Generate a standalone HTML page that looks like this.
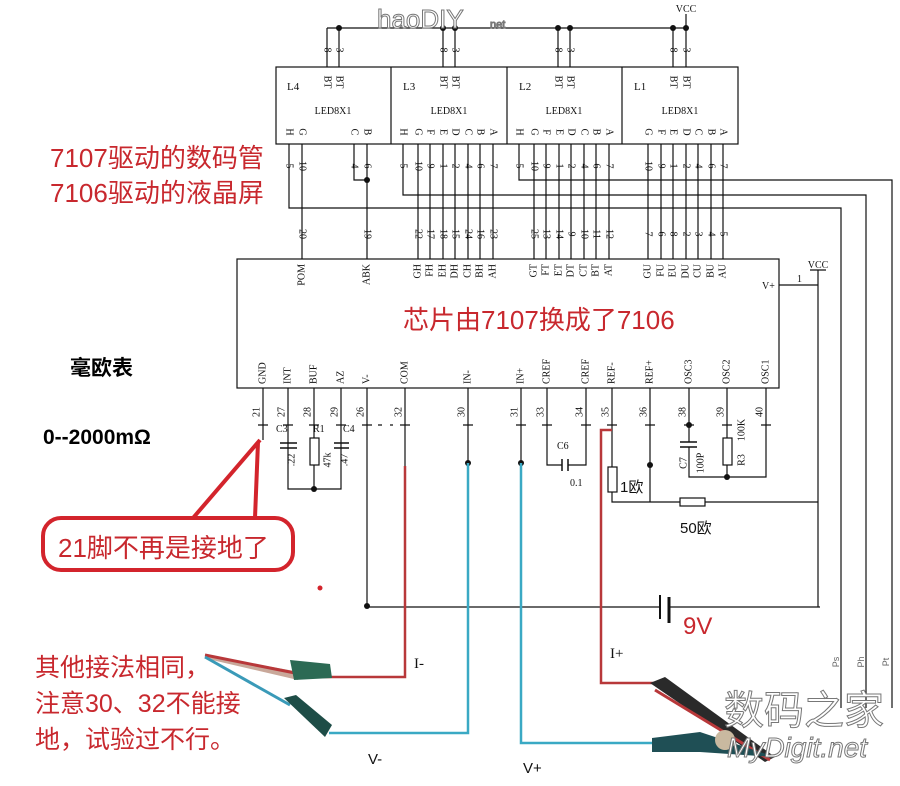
<!DOCTYPE html>
<html><head><meta charset="utf-8"><style>
html,body{margin:0;padding:0;background:#fff}
svg{display:block}
.s{font-family:"Liberation Serif",serif;font-size:10px;fill:#111}
.r{font-family:"Liberation Sans","Noto Sans CJK SC",sans-serif;fill:#c8282e}
.b{font-family:"Liberation Sans","Noto Sans CJK SC",sans-serif;font-weight:bold;fill:#000}
</style></head><body>
<svg width="900" height="786" viewBox="0 0 900 786" xmlns="http://www.w3.org/2000/svg">
<rect width="900" height="786" fill="#fff"/>
<g stroke="#111" stroke-width="1.2" fill="none">
<path d="M327 28H686M327 28V67M339 28V67M443 28V67M455 28V67M558 28V67M570 28V67M673 28V67M686 14V67"/>
<rect x="276" y="67" width="462" height="77"/>
<path d="M391 67V144M507 67V144M622 67V144"/>
<path d="M302 144V259M367 144V259M354 144V180H367"/>
<path d="M418 144V259M430 144V259M443 144V259M455 144V259M468 144V259M480 144V259M493 144V259"/>
<path d="M534 144V259M546 144V259M559 144V259M571 144V259M584 144V259M596 144V259M609 144V259"/>
<path d="M648 144V259M661 144V259M673 144V259M686 144V259M698 144V259M711 144V259M723 144V259"/>
<path d="M519 144V180H892V708M403 144V195H866V708M289 144V208H841V708"/>
<rect x="237" y="259" width="542" height="129"/>
<path d="M779 285H818M818 270V607M810 270H826"/>
<path d="M263 388V440M288 388V489H341V388M314 388V438M314 465V489M367 388V607M405 388V466M468 388V463M521 388V463"/>
<path d="M547 388V465H562M568 465H586V388"/>
<path d="M612 388V467M612 492V502H680M705 502H818M650 388V502"/>
<path d="M689 388V442M689 447V477H766V388M727 388V438M727 465V477"/>
<path d="M367 607H660M669 607H820"/>
<path d="M258 425H268M283 425H293M309 425H319M336 425H346M362 425H372M400 425H410M463 425H473M516 425H526M542 425H552M581 425H591M607 425H617M645 425H655M684 425H694M722 425H732M761 425H771M378 425H382M390 425H393"/>
<path d="M280 443H297M280 448H297M334 443H349M334 448H349M680 442H697M680 447H697" stroke-width="1.5"/>
<path d="M562 459V471M568 459V471" stroke-width="1.5"/>
<path d="M660 595V619" stroke-width="2"/><path d="M669 597V623" stroke-width="3"/>
<rect x="310" y="438" width="9" height="27" fill="#fff"/>
<rect x="723" y="438" width="9" height="27" fill="#fff"/>
<rect x="608" y="467" width="9" height="25" fill="#fff"/>
<rect x="680" y="498" width="25" height="8" fill="#fff"/>
</g>
<g fill="#111">
<circle cx="339" cy="28" r="3"/><circle cx="443" cy="28" r="3"/><circle cx="455" cy="28" r="3"/><circle cx="558" cy="28" r="3"/><circle cx="570" cy="28" r="3"/><circle cx="673" cy="28" r="3"/><circle cx="686" cy="28" r="3"/>
<circle cx="367" cy="180" r="3"/><circle cx="314" cy="489" r="3"/><circle cx="468" cy="463" r="3"/><circle cx="521" cy="463" r="3"/><circle cx="650" cy="465" r="3"/><circle cx="689" cy="425" r="3"/><circle cx="727" cy="477" r="3"/><circle cx="367" cy="606" r="3"/>
</g>
<g fill="none" stroke-width="2.5">
<path d="M405 466V677H297" stroke="#b8383a"/>
<path d="M612 430H601V683H658" stroke="#b8383a"/>
<path d="M468 463V733H329" stroke="#3aa9c4"/>
<path d="M521 463V743H655" stroke="#3aa9c4"/>
</g>
<g>
<path d="M205 655L300 672L298 680L212 660Z" fill="#c9a89a"/>
<path d="M205 655L300 674" stroke="#b8383a" stroke-width="3"/>
<path d="M290 660L330 664L332 678L294 680Z" fill="#2c6a54"/>
<path d="M205 657L290 705" stroke="#3a9ab8" stroke-width="3"/>
<path d="M284 698L296 695L332 725L325 737Z" fill="#1e4d47"/>
<path d="M650 683L665 677L775 757L765 762Z" fill="#2a2a2a"/>
<path d="M655 690L770 760" stroke="#b8383a" stroke-width="3"/>
<path d="M652 738L700 732L775 757L700 752L652 752Z" fill="#1f4f55"/>
<circle cx="725" cy="740" r="10" fill="#c9b9a0"/>
</g>
<g stroke="#d3242c" stroke-width="4" fill="none">
<rect x="43" y="518" width="250" height="52" rx="18"/>
<path d="M193 518L260 440M255 518L258 442"/>
</g>
<circle cx="320" cy="588" r="2.5" fill="#d3242c"/>
<g class="s">
<text x="686" y="12" text-anchor="middle">VCC</text>
<text x="818" y="268" text-anchor="middle">VCC</text>
<text x="762" y="289">V+</text>
<text x="797" y="282">1</text>
<text x="287" y="90" font-size="11">L4</text><text x="403" y="90" font-size="11">L3</text><text x="519" y="90" font-size="11">L2</text><text x="634" y="90" font-size="11">L1</text>
<text x="333" y="114" text-anchor="middle">LED8X1</text><text x="449" y="114" text-anchor="middle">LED8X1</text><text x="564" y="114" text-anchor="middle">LED8X1</text><text x="680" y="114" text-anchor="middle">LED8X1</text>
<text x="276" y="432">C3</text><text x="313" y="432">R1</text><text x="343" y="432">C4</text>
<text x="557" y="449">C6</text><text x="570" y="486">0.1</text>
</g>
<g class="s" font-size="10">
<text transform="translate(327,50) rotate(90)" text-anchor="middle" dominant-baseline="central">8</text>
<text transform="translate(339,50) rotate(90)" text-anchor="middle" dominant-baseline="central">3</text>
<text transform="translate(443,50) rotate(90)" text-anchor="middle" dominant-baseline="central">8</text>
<text transform="translate(455,50) rotate(90)" text-anchor="middle" dominant-baseline="central">3</text>
<text transform="translate(558,50) rotate(90)" text-anchor="middle" dominant-baseline="central">8</text>
<text transform="translate(570,50) rotate(90)" text-anchor="middle" dominant-baseline="central">3</text>
<text transform="translate(673,50) rotate(90)" text-anchor="middle" dominant-baseline="central">8</text>
<text transform="translate(686,50) rotate(90)" text-anchor="middle" dominant-baseline="central">3</text>
<text transform="translate(327,82) rotate(90)" text-anchor="middle" dominant-baseline="central">BT</text>
<text transform="translate(339,82) rotate(90)" text-anchor="middle" dominant-baseline="central">BT</text>
<text transform="translate(443,82) rotate(90)" text-anchor="middle" dominant-baseline="central">BT</text>
<text transform="translate(455,82) rotate(90)" text-anchor="middle" dominant-baseline="central">BT</text>
<text transform="translate(558,82) rotate(90)" text-anchor="middle" dominant-baseline="central">BT</text>
<text transform="translate(570,82) rotate(90)" text-anchor="middle" dominant-baseline="central">BT</text>
<text transform="translate(673,82) rotate(90)" text-anchor="middle" dominant-baseline="central">BT</text>
<text transform="translate(686,82) rotate(90)" text-anchor="middle" dominant-baseline="central">BT</text>
</g>
<g class="s">
<text transform="translate(289,132) rotate(90)" text-anchor="middle" dominant-baseline="central">H</text>
<text transform="translate(302,132) rotate(90)" text-anchor="middle" dominant-baseline="central">G</text>
<text transform="translate(354,132) rotate(90)" text-anchor="middle" dominant-baseline="central">C</text>
<text transform="translate(367,132) rotate(90)" text-anchor="middle" dominant-baseline="central">B</text>
<text transform="translate(289,166) rotate(90)" text-anchor="middle" dominant-baseline="central">5</text>
<text transform="translate(302,166) rotate(90)" text-anchor="middle" dominant-baseline="central">10</text>
<text transform="translate(354,166) rotate(90)" text-anchor="middle" dominant-baseline="central">4</text>
<text transform="translate(367,166) rotate(90)" text-anchor="middle" dominant-baseline="central">6</text>
<text transform="translate(302,234) rotate(90)" text-anchor="middle" dominant-baseline="central">20</text>
<text transform="translate(367,234) rotate(90)" text-anchor="middle" dominant-baseline="central">19</text>
</g>
<g class="s">
<text transform="translate(403,132) rotate(90)" text-anchor="middle" dominant-baseline="central">H</text>
<text transform="translate(418,132) rotate(90)" text-anchor="middle" dominant-baseline="central">G</text>
<text transform="translate(430,132) rotate(90)" text-anchor="middle" dominant-baseline="central">F</text>
<text transform="translate(443,132) rotate(90)" text-anchor="middle" dominant-baseline="central">E</text>
<text transform="translate(455,132) rotate(90)" text-anchor="middle" dominant-baseline="central">D</text>
<text transform="translate(468,132) rotate(90)" text-anchor="middle" dominant-baseline="central">C</text>
<text transform="translate(480,132) rotate(90)" text-anchor="middle" dominant-baseline="central">B</text>
<text transform="translate(493,132) rotate(90)" text-anchor="middle" dominant-baseline="central">A</text>
<text transform="translate(403,166) rotate(90)" text-anchor="middle" dominant-baseline="central">5</text>
<text transform="translate(418,166) rotate(90)" text-anchor="middle" dominant-baseline="central">10</text>
<text transform="translate(430,166) rotate(90)" text-anchor="middle" dominant-baseline="central">9</text>
<text transform="translate(443,166) rotate(90)" text-anchor="middle" dominant-baseline="central">1</text>
<text transform="translate(455,166) rotate(90)" text-anchor="middle" dominant-baseline="central">2</text>
<text transform="translate(468,166) rotate(90)" text-anchor="middle" dominant-baseline="central">4</text>
<text transform="translate(480,166) rotate(90)" text-anchor="middle" dominant-baseline="central">6</text>
<text transform="translate(493,166) rotate(90)" text-anchor="middle" dominant-baseline="central">7</text>
<text transform="translate(418,234) rotate(90)" text-anchor="middle" dominant-baseline="central">22</text>
<text transform="translate(430,234) rotate(90)" text-anchor="middle" dominant-baseline="central">17</text>
<text transform="translate(443,234) rotate(90)" text-anchor="middle" dominant-baseline="central">18</text>
<text transform="translate(455,234) rotate(90)" text-anchor="middle" dominant-baseline="central">15</text>
<text transform="translate(468,234) rotate(90)" text-anchor="middle" dominant-baseline="central">24</text>
<text transform="translate(480,234) rotate(90)" text-anchor="middle" dominant-baseline="central">16</text>
<text transform="translate(493,234) rotate(90)" text-anchor="middle" dominant-baseline="central">23</text>
<text transform="translate(519,132) rotate(90)" text-anchor="middle" dominant-baseline="central">H</text>
<text transform="translate(534,132) rotate(90)" text-anchor="middle" dominant-baseline="central">G</text>
<text transform="translate(546,132) rotate(90)" text-anchor="middle" dominant-baseline="central">F</text>
<text transform="translate(559,132) rotate(90)" text-anchor="middle" dominant-baseline="central">E</text>
<text transform="translate(571,132) rotate(90)" text-anchor="middle" dominant-baseline="central">D</text>
<text transform="translate(584,132) rotate(90)" text-anchor="middle" dominant-baseline="central">C</text>
<text transform="translate(596,132) rotate(90)" text-anchor="middle" dominant-baseline="central">B</text>
<text transform="translate(609,132) rotate(90)" text-anchor="middle" dominant-baseline="central">A</text>
<text transform="translate(519,166) rotate(90)" text-anchor="middle" dominant-baseline="central">5</text>
<text transform="translate(534,166) rotate(90)" text-anchor="middle" dominant-baseline="central">10</text>
<text transform="translate(546,166) rotate(90)" text-anchor="middle" dominant-baseline="central">9</text>
<text transform="translate(559,166) rotate(90)" text-anchor="middle" dominant-baseline="central">1</text>
<text transform="translate(571,166) rotate(90)" text-anchor="middle" dominant-baseline="central">2</text>
<text transform="translate(584,166) rotate(90)" text-anchor="middle" dominant-baseline="central">4</text>
<text transform="translate(596,166) rotate(90)" text-anchor="middle" dominant-baseline="central">6</text>
<text transform="translate(609,166) rotate(90)" text-anchor="middle" dominant-baseline="central">7</text>
<text transform="translate(534,234) rotate(90)" text-anchor="middle" dominant-baseline="central">25</text>
<text transform="translate(546,234) rotate(90)" text-anchor="middle" dominant-baseline="central">13</text>
<text transform="translate(559,234) rotate(90)" text-anchor="middle" dominant-baseline="central">14</text>
<text transform="translate(571,234) rotate(90)" text-anchor="middle" dominant-baseline="central">9</text>
<text transform="translate(584,234) rotate(90)" text-anchor="middle" dominant-baseline="central">10</text>
<text transform="translate(596,234) rotate(90)" text-anchor="middle" dominant-baseline="central">11</text>
<text transform="translate(609,234) rotate(90)" text-anchor="middle" dominant-baseline="central">12</text>
<text transform="translate(648,132) rotate(90)" text-anchor="middle" dominant-baseline="central">G</text>
<text transform="translate(661,132) rotate(90)" text-anchor="middle" dominant-baseline="central">F</text>
<text transform="translate(673,132) rotate(90)" text-anchor="middle" dominant-baseline="central">E</text>
<text transform="translate(686,132) rotate(90)" text-anchor="middle" dominant-baseline="central">D</text>
<text transform="translate(698,132) rotate(90)" text-anchor="middle" dominant-baseline="central">C</text>
<text transform="translate(711,132) rotate(90)" text-anchor="middle" dominant-baseline="central">B</text>
<text transform="translate(723,132) rotate(90)" text-anchor="middle" dominant-baseline="central">A</text>
<text transform="translate(648,166) rotate(90)" text-anchor="middle" dominant-baseline="central">10</text>
<text transform="translate(661,166) rotate(90)" text-anchor="middle" dominant-baseline="central">9</text>
<text transform="translate(673,166) rotate(90)" text-anchor="middle" dominant-baseline="central">1</text>
<text transform="translate(686,166) rotate(90)" text-anchor="middle" dominant-baseline="central">2</text>
<text transform="translate(698,166) rotate(90)" text-anchor="middle" dominant-baseline="central">4</text>
<text transform="translate(711,166) rotate(90)" text-anchor="middle" dominant-baseline="central">6</text>
<text transform="translate(723,166) rotate(90)" text-anchor="middle" dominant-baseline="central">7</text>
<text transform="translate(648,234) rotate(90)" text-anchor="middle" dominant-baseline="central">7</text>
<text transform="translate(661,234) rotate(90)" text-anchor="middle" dominant-baseline="central">6</text>
<text transform="translate(673,234) rotate(90)" text-anchor="middle" dominant-baseline="central">8</text>
<text transform="translate(686,234) rotate(90)" text-anchor="middle" dominant-baseline="central">2</text>
<text transform="translate(698,234) rotate(90)" text-anchor="middle" dominant-baseline="central">3</text>
<text transform="translate(711,234) rotate(90)" text-anchor="middle" dominant-baseline="central">4</text>
<text transform="translate(723,234) rotate(90)" text-anchor="middle" dominant-baseline="central">5</text>
</g>
<g class="s">
<text transform="translate(302,264) rotate(-90)" text-anchor="end" dominant-baseline="central">POM</text>
<text transform="translate(367,264) rotate(-90)" text-anchor="end" dominant-baseline="central">ABK</text>
<text transform="translate(418,264) rotate(-90)" text-anchor="end" dominant-baseline="central">GH</text>
<text transform="translate(430,264) rotate(-90)" text-anchor="end" dominant-baseline="central">FH</text>
<text transform="translate(443,264) rotate(-90)" text-anchor="end" dominant-baseline="central">EH</text>
<text transform="translate(455,264) rotate(-90)" text-anchor="end" dominant-baseline="central">DH</text>
<text transform="translate(468,264) rotate(-90)" text-anchor="end" dominant-baseline="central">CH</text>
<text transform="translate(480,264) rotate(-90)" text-anchor="end" dominant-baseline="central">BH</text>
<text transform="translate(493,264) rotate(-90)" text-anchor="end" dominant-baseline="central">AH</text>
<text transform="translate(534,264) rotate(-90)" text-anchor="end" dominant-baseline="central">GT</text>
<text transform="translate(546,264) rotate(-90)" text-anchor="end" dominant-baseline="central">FT</text>
<text transform="translate(559,264) rotate(-90)" text-anchor="end" dominant-baseline="central">ET</text>
<text transform="translate(571,264) rotate(-90)" text-anchor="end" dominant-baseline="central">DT</text>
<text transform="translate(584,264) rotate(-90)" text-anchor="end" dominant-baseline="central">CT</text>
<text transform="translate(596,264) rotate(-90)" text-anchor="end" dominant-baseline="central">BT</text>
<text transform="translate(609,264) rotate(-90)" text-anchor="end" dominant-baseline="central">AT</text>
<text transform="translate(648,264) rotate(-90)" text-anchor="end" dominant-baseline="central">GU</text>
<text transform="translate(661,264) rotate(-90)" text-anchor="end" dominant-baseline="central">FU</text>
<text transform="translate(673,264) rotate(-90)" text-anchor="end" dominant-baseline="central">EU</text>
<text transform="translate(686,264) rotate(-90)" text-anchor="end" dominant-baseline="central">DU</text>
<text transform="translate(698,264) rotate(-90)" text-anchor="end" dominant-baseline="central">CU</text>
<text transform="translate(711,264) rotate(-90)" text-anchor="end" dominant-baseline="central">BU</text>
<text transform="translate(723,264) rotate(-90)" text-anchor="end" dominant-baseline="central">AU</text>
<text transform="translate(263,384) rotate(-90)" dominant-baseline="central">GND</text>
<text transform="translate(288,384) rotate(-90)" dominant-baseline="central">INT</text>
<text transform="translate(314,384) rotate(-90)" dominant-baseline="central">BUF</text>
<text transform="translate(341,384) rotate(-90)" dominant-baseline="central">AZ</text>
<text transform="translate(367,384) rotate(-90)" dominant-baseline="central">V-</text>
<text transform="translate(405,384) rotate(-90)" dominant-baseline="central">COM</text>
<text transform="translate(468,384) rotate(-90)" dominant-baseline="central">IN-</text>
<text transform="translate(521,384) rotate(-90)" dominant-baseline="central">IN+</text>
<text transform="translate(547,384) rotate(-90)" dominant-baseline="central">CREF</text>
<text transform="translate(586,384) rotate(-90)" dominant-baseline="central">CREF</text>
<text transform="translate(612,384) rotate(-90)" dominant-baseline="central">REF-</text>
<text transform="translate(650,384) rotate(-90)" dominant-baseline="central">REF+</text>
<text transform="translate(689,384) rotate(-90)" dominant-baseline="central">OSC3</text>
<text transform="translate(727,384) rotate(-90)" dominant-baseline="central">OSC2</text>
<text transform="translate(766,384) rotate(-90)" dominant-baseline="central">OSC1</text>
<text transform="translate(257,412) rotate(-90)" text-anchor="middle" dominant-baseline="central">21</text>
<text transform="translate(282,412) rotate(-90)" text-anchor="middle" dominant-baseline="central">27</text>
<text transform="translate(308,412) rotate(-90)" text-anchor="middle" dominant-baseline="central">28</text>
<text transform="translate(335,412) rotate(-90)" text-anchor="middle" dominant-baseline="central">29</text>
<text transform="translate(361,412) rotate(-90)" text-anchor="middle" dominant-baseline="central">26</text>
<text transform="translate(399,412) rotate(-90)" text-anchor="middle" dominant-baseline="central">32</text>
<text transform="translate(462,412) rotate(-90)" text-anchor="middle" dominant-baseline="central">30</text>
<text transform="translate(515,412) rotate(-90)" text-anchor="middle" dominant-baseline="central">31</text>
<text transform="translate(541,412) rotate(-90)" text-anchor="middle" dominant-baseline="central">33</text>
<text transform="translate(580,412) rotate(-90)" text-anchor="middle" dominant-baseline="central">34</text>
<text transform="translate(606,412) rotate(-90)" text-anchor="middle" dominant-baseline="central">35</text>
<text transform="translate(644,412) rotate(-90)" text-anchor="middle" dominant-baseline="central">36</text>
<text transform="translate(683,412) rotate(-90)" text-anchor="middle" dominant-baseline="central">38</text>
<text transform="translate(721,412) rotate(-90)" text-anchor="middle" dominant-baseline="central">39</text>
<text transform="translate(760,412) rotate(-90)" text-anchor="middle" dominant-baseline="central">40</text>
<text transform="translate(292,460) rotate(-90)" text-anchor="middle" dominant-baseline="central">.22</text>
<text transform="translate(328,460) rotate(-90)" text-anchor="middle" dominant-baseline="central">47k</text>
<text transform="translate(345,460) rotate(-90)" text-anchor="middle" dominant-baseline="central">.47</text>
<text transform="translate(684,463) rotate(-90)" text-anchor="middle" dominant-baseline="central">C7</text>
<text transform="translate(701,463) rotate(-90)" text-anchor="middle" dominant-baseline="central">100P</text>
<text transform="translate(742,430) rotate(-90)" text-anchor="middle" dominant-baseline="central">100K</text>
<text transform="translate(742,460) rotate(-90)" text-anchor="middle" dominant-baseline="central">R3</text>
</g>
<g font-family="Liberation Sans,sans-serif" font-size="9" fill="#666">
<text transform="translate(836,662) rotate(-90)" text-anchor="middle" dominant-baseline="central">Ps</text>
<text transform="translate(861,662) rotate(-90)" text-anchor="middle" dominant-baseline="central">Ph</text>
<text transform="translate(886,662) rotate(-90)" text-anchor="middle" dominant-baseline="central">Pt</text>
</g>
<text class="r" x="50" y="167" font-size="26">7107驱动的数码管</text>
<text class="r" x="50" y="202" font-size="26">7106驱动的液晶屏</text>
<text class="r" x="403" y="329" font-size="26">芯片由7107换成了7106</text>
<text class="r" x="58" y="557" font-size="26">21脚不再是接地了</text>
<text class="r" x="35" y="676" font-size="25">其他接法相同，</text>
<text class="r" x="35" y="712" font-size="25">注意30、32不能接</text>
<text class="r" x="35" y="748" font-size="25">地，试验过不行。</text>
<text class="r" x="683" y="634" font-size="24" font-family="Liberation Serif,serif">9V</text>
<text class="b" x="70" y="375" font-size="21">毫欧表</text>
<text class="b" x="43" y="444" font-size="21">0--2000mΩ</text>
<g font-family="Liberation Sans,'Noto Sans CJK SC',sans-serif" fill="#111">
<text x="620" y="492" font-size="15">1欧</text>
<text x="680" y="533" font-size="15">50欧</text>
<text x="414" y="668" font-size="15" font-family="Liberation Serif,serif">I-</text>
<text x="610" y="658" font-size="15" font-family="Liberation Serif,serif">I+</text>
<text x="368" y="764" font-size="15">V-</text>
<text x="523" y="773" font-size="15">V+</text>
</g>
<g font-family="Liberation Sans,'Noto Sans CJK SC',sans-serif" fill="#fff" stroke="#777" stroke-width="1">
<text x="724" y="724" font-size="40">数码之家</text>
<text x="727" y="757" font-size="28" font-style="italic">MyDigit.net</text>
<text x="377" y="28" font-size="26">haoDIY</text>
<text x="490" y="28" font-size="11">net</text>
</g>
</svg>
</body></html>
